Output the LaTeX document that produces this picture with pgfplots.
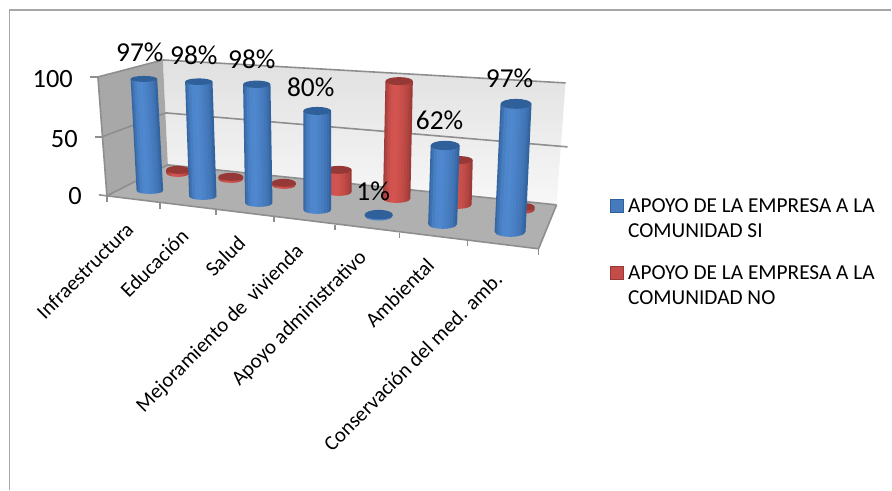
\documentclass[border=0pt]{standalone}
\usepackage{fontspec}
\setmainfont{Carlito}
\usepackage{pgfplots}
\pgfplotsset{compat=1.18}

\definecolor{wallside}{HTML}{A8A8A8}
\definecolor{wallfloor}{HTML}{B0B0B0}
\definecolor{gridgray}{HTML}{8E8E8E}
\definecolor{framegray}{HTML}{A6A6A6}
\definecolor{cylbluecap}{HTML}{30609A}
\definecolor{cylredcap}{HTML}{963835}
\definecolor{cylbluelight}{HTML}{5088CF}
\definecolor{cylredlight}{HTML}{D45450}
\definecolor{bluemid}{HTML}{467ABC}
\definecolor{redmid}{HTML}{C44C48}

% One lengthwise strip of a cylinder wall between u=#2 and u=#3; #1 colour name; #4 share of the dark tone.
% Strips overlap slightly and are painted left to right, so no seams show between them.
\newcommand{\cstrip}[4]{%
  \addplot[mark=none,draw=none,fill=#1cap!#4!#1light] table[row sep=crcr,
    x expr={\cx+\hw*\thisrow{u}+\lean*\val*\thisrow{v}},
    y expr={\cy+\hh*sqrt(max(1-\thisrow{u}*\thisrow{u},0))*(1-\thisrow{v})-\kk*\val*\thisrow{v}}]
    {u v\\ #2 0\\ #3 0\\ #3 1\\ #2 1\\};
}
% #1,#2 base centre; #3,#4 half axes; #5 px per unit; #6 lean per unit; #7 value; #8 colour
\newcommand{\cylinder}[8]{%
  \def\cx{#1}\def\cy{#2}\def\hw{#3}\def\hh{#4}\def\kk{#5}\def\lean{#6}\def\val{#7}%
  \cstrip{#8}{-1}{-0.85}{85}\cstrip{#8}{-0.9}{-0.7}{55}\cstrip{#8}{-0.75}{-0.5}{25}%
  \cstrip{#8}{-0.55}{-0.25}{5}\cstrip{#8}{-0.3}{-0.05}{0}\cstrip{#8}{-0.1}{0.15}{8}%
  \cstrip{#8}{0.1}{0.35}{18}\cstrip{#8}{0.3}{0.55}{30}\cstrip{#8}{0.5}{0.75}{45}%
  \cstrip{#8}{0.7}{0.9}{65}\cstrip{#8}{0.85}{1}{90}%
  \addplot[draw=none,mark=none,fill=#8cap] table[row sep=crcr,
    x expr={#1+#6*#7+#3*cos(\thisrow{a})},
    y expr={#2-#5*#7+#4*sin(\thisrow{a})}]
    {a\\ 0\\ 22.5\\ 45\\ 67.5\\ 90\\ 112.5\\ 135\\ 157.5\\ 180\\ 202.5\\ 225\\ 247.5\\ 270\\ 292.5\\ 315\\ 337.5\\};
}
\newcommand{\seg}[4]{\addplot[gridgray,line width=1.6pt,mark=none] coordinates {(#1,#2) (#3,#4)};}
\newcommand{\catlabel}[3]{\node[rotate=45,anchor=east,inner sep=0pt,font=\fontsize{21}{24}\selectfont] at (axis cs:#1,#2) {#3};}
\newcommand{\vallabel}[3]{\node[inner sep=0pt,font=\fontsize{27.5}{30}\selectfont] at (axis cs:#1,#2) {#3};}
\newcommand{\ticklab}[3]{\node[anchor=east,inner sep=0pt,font=\fontsize{26.5}{30}\selectfont] at (axis cs:#1,#2) {#3};}
\newcommand{\legtext}[3]{\node[anchor=base west,inner sep=0pt,font=\fontsize{21.4}{24}\selectfont] at (axis cs:#1,#2) {#3};}

\begin{document}
\begin{tikzpicture}
\begin{axis}[
  scale only axis,width=892bp,height=490bp,
  xmin=0,xmax=892,ymin=0,ymax=490,y dir=reverse,
  axis lines=none,clip=false]

% Holds the page open to the full chart area
\addplot[draw=none,mark=none] coordinates {(0,0) (892,490)};

% Chart frame
\addplot[framegray,line width=1.5pt,mark=none] coordinates {(9.5,490) (9.5,10) (892,10)};

% Back wall, side wall and floor
\addplot[draw=none,mark=none,shade,top color=black!12,bottom color=black!3]
  coordinates {(163,60) (566,83) (557,205) (168,165)};
\addplot[draw=none,mark=none,fill=wallside]
  coordinates {(98,77) (163,60) (168,165) (107,196)};
\addplot[draw=none,mark=none,fill=wallfloor]
  coordinates {(107,196) (168,165) (557,205) (539,249)};

% Gridlines and wall edges
\seg{90}{77}{98}{77}\seg{98}{77}{163}{60}\seg{163}{60}{566}{83}
\seg{95}{137}{102}{137}\seg{102}{137}{166}{113}\seg{166}{113}{568}{147}
\seg{99}{195}{107}{196}\seg{107}{196}{168}{165}\seg{168}{165}{557}{205}
\seg{98}{77}{107}{196}\seg{557}{205}{539}{249}
\seg{107}{196}{539}{249}

% Ticks along the front edge of the floor
\seg{107}{196}{107}{202}\seg{160}{203}{160}{209}\seg{216}{210}{216}{215}
\seg{274}{217}{274}{222}\seg{335}{225}{335}{230}\seg{400}{233}{400}{238}
\seg{468}{241}{468}{246}\seg{539}{249}{539}{255}

% Back row: APOYO DE LA EMPRESA A LA COMUNIDAD NO
\cylinder{178}{173}{11.7}{4}{1.0}{0}{3}{cylred}
\cylinder{231}{179}{12.5}{4}{1.0}{0}{2}{cylred}
\cylinder{284}{185}{12}{4}{1.0}{0}{2}{cylred}
\cylinder{339}{192}{13}{4}{1.1}{0}{20}{cylred}
\cylinder{397}{199}{13.7}{4}{1.19}{0.025}{99}{cylred}
\cylinder{458}{205}{14}{4}{1.18}{0.03}{38}{cylred}
\cylinder{522}{210}{13}{4}{1.0}{0}{3}{cylred}

% Front row: APOYO DE LA EMPRESA A LA COMUNIDAD SI
\cylinder{150}{191}{13.3}{3}{1.155}{-0.0615}{97}{cylblue}
\cylinder{203}{196.7}{13.7}{3.3}{1.173}{-0.041}{98}{cylblue}
\cylinder{259}{203.3}{13.7}{3.7}{1.214}{-0.0205}{98}{cylblue}
\cylinder{317.5}{210}{14}{4}{1.2375}{0}{80}{cylblue}
\cylinder{379}{216}{14}{4.7}{1.25}{0.02}{1}{cylblue}
\cylinder{443}{224.3}{14.5}{4.7}{1.27}{0.041}{62}{cylblue}
\cylinder{510.5}{232}{15.5}{5}{1.32}{0.0615}{97}{cylblue}

% Value axis labels
\ticklab{73}{79}{100}
\ticklab{78}{139}{50}
\ticklab{82}{196}{0}

% Values above the front row
\vallabel{140}{52}{97\%}
\vallabel{194}{55}{98\%}
\vallabel{252}{59}{98\%}
\vallabel{311}{87}{80\%}
\vallabel{373.5}{191}{1\%}
\vallabel{440}{120}{62\%}
\vallabel{510}{78}{97\%}

% Category labels
\catlabel{130}{226}{Infraestructura}
\catlabel{185}{233}{Educación}
\catlabel{242}{240}{Salud}
\catlabel{301}{249}{Mejoramiento de\ \,vivienda}
\catlabel{364}{255}{Apoyo administrativo}
\catlabel{431}{262}{Ambiental}
\catlabel{499}{276}{Conservación del med. amb.}

% Legend
\addplot[draw=cylbluecap,line width=0.8pt,mark=none,fill=bluemid]
  coordinates {(611,200) (624,200) (624,213) (611,213) (611,200)};
\addplot[draw=cylredcap,line width=0.8pt,mark=none,fill=redmid]
  coordinates {(611,267) (624,267) (624,280) (611,280) (611,267)};
\legtext{628.5}{213}{APOYO DE LA EMPRESA A LA}
\legtext{628.5}{238}{COMUNIDAD SI}
\legtext{628.5}{280}{APOYO DE LA EMPRESA A LA}
\legtext{628.5}{305}{COMUNIDAD NO}
\end{axis}
\end{tikzpicture}
\end{document}
